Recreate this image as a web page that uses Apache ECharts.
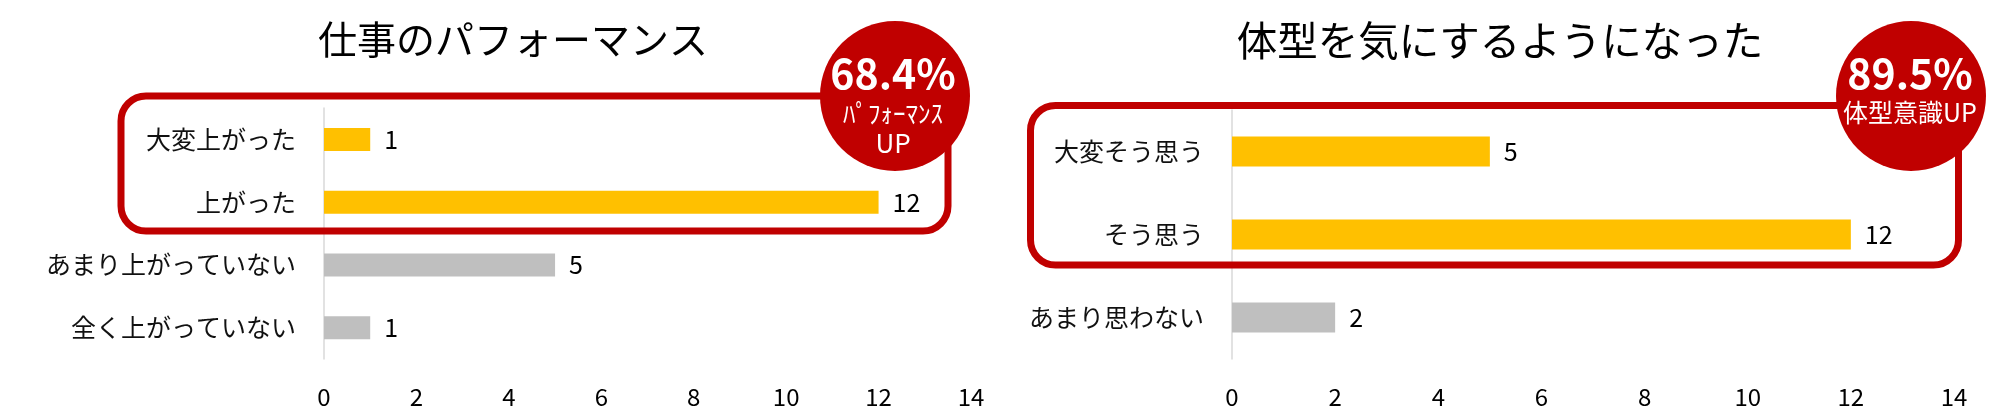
<!DOCTYPE html>
<html><head><meta charset="utf-8">
<script src="https://cdn.jsdelivr.net/npm/echarts@6/dist/echarts.min.js"></script>
<style>html,body{margin:0;padding:0;background:#fff}#c{width:2011px;height:415px}</style>
</head><body><div id="c"></div>
<script>
const FONT = '"Noto Sans CJK JP","Noto Sans",sans-serif';
const YELLOW = '#FFC000', GRAY = '#BFBFBF', RED = '#C00000';

const title1 = '仕事のパフォーマンス';
const categories1 = ['大変上がった', '上がった', 'あまり上がっていない', '全く上がっていない'];
const values1 = [1, 12, 5, 1];
const colors1 = [YELLOW, YELLOW, GRAY, GRAY];
const badge1 = ['68.4%', 'ﾊﾟﾌｫｰﾏﾝｽ', 'UP'];

const title2 = '体型を気にするようになった';
const categories2 = ['大変そう思う', 'そう思う', 'あまり思わない'];
const values2 = [5, 12, 2];
const colors2 = [YELLOW, YELLOW, GRAY];
const badge2 = ['89.5%', '体型意識UP'];

const xTicks = [0, 2, 4, 6, 8, 10, 12, 14];

const chart = echarts.init(document.getElementById('c'), null, {renderer: 'canvas'});

function xAxisCfg(idx) {
  return {
    gridIndex: idx, type: 'value', min: xTicks[0], max: xTicks[xTicks.length - 1],
    interval: xTicks[1] - xTicks[0],
    axisLine: {show: false}, axisTick: {show: false}, splitLine: {show: false},
    axisLabel: {fontSize: 24, color: '#000', fontFamily: FONT, margin: 26}
  };
}
function yAxisCfg(idx, cats) {
  return {
    gridIndex: idx, type: 'category', data: cats, inverse: true,
    axisLine: {show: true, lineStyle: {color: '#D9D9D9', width: 1.5}},
    axisTick: {show: false}, splitLine: {show: false},
    axisLabel: {fontSize: 25, color: '#111', fontFamily: FONT, margin: 28}
  };
}
function seriesCfg(idx, vals, cols, bw) {
  return {
    type: 'bar', xAxisIndex: idx, yAxisIndex: idx, barWidth: bw,
    data: vals.map((v, i) => ({value: v, itemStyle: {color: cols[i]}})),
    label: {show: true, position: 'right', distance: 14, fontSize: 25, color: '#000', fontFamily: FONT},
    silent: true, animation: false
  };
}

chart.setOption({
  animation: false,
  grid: [
    {left: 324, top: 108, width: 647, height: 251},
    {left: 1232, top: 110, width: 722, height: 249}
  ],
  xAxis: [xAxisCfg(0), xAxisCfg(1)],
  yAxis: [yAxisCfg(0, categories1), yAxisCfg(1, categories2)],
  series: [seriesCfg(0, values1, colors1, 23), seriesCfg(1, values2, colors2, 30)],
  graphic: [
    {type: 'text', x: 513, y: 39, style: {text: title1, font: '39px ' + FONT, fill: '#000', align: 'center', verticalAlign: 'middle'}},
    {type: 'text', x: 1500, y: 41, style: {text: title2, font: '40.5px ' + FONT, fill: '#000', align: 'center', verticalAlign: 'middle'}},
    {type: 'rect', shape: {x: 121, y: 96, width: 827, height: 135, r: 25},
      style: {fill: 'none', stroke: RED, lineWidth: 7}, z: 10},
    {type: 'rect', shape: {x: 1030.5, y: 105.5, width: 928, height: 159.5, r: 25},
      style: {fill: 'none', stroke: RED, lineWidth: 7}, z: 10},
    {type: 'circle', shape: {cx: 895, cy: 96, r: 75}, style: {fill: RED}, z: 11},
    {type: 'circle', shape: {cx: 1911, cy: 96, r: 75}, style: {fill: RED}, z: 11},
    {type: 'text', x: 893, y: 73, z: 12, style: {text: badge1[0], font: 'bold 41px ' + FONT, fill: '#fff', align: 'center', verticalAlign: 'middle'}},
    {type: 'text', x: 893, y: 113, z: 12, style: {text: badge1[1], font: '25px ' + FONT, fill: '#fff', align: 'center', verticalAlign: 'middle'}},
    {type: 'text', x: 893, y: 143, z: 12, style: {text: badge1[2], font: '26px ' + FONT, fill: '#fff', align: 'center', verticalAlign: 'middle'}},
    {type: 'text', x: 1910, y: 73, z: 12, style: {text: badge2[0], font: 'bold 41px ' + FONT, fill: '#fff', align: 'center', verticalAlign: 'middle'}},
    {type: 'text', x: 1910, y: 112, z: 12, style: {text: badge2[1], font: '25px ' + FONT, fill: '#fff', align: 'center', verticalAlign: 'middle'}}
  ]
});
</script></body></html>
